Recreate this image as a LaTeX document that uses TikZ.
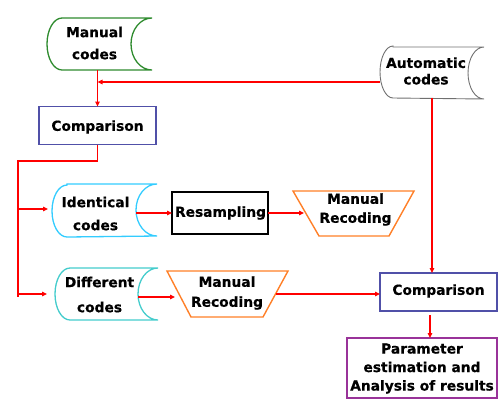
\documentclass[tikz,border=0pt]{standalone}
\usepackage{fontspec}
\setmainfont{DejaVu Sans}[BoldFeatures={FakeBold=0.6}]
\usetikzlibrary{arrows.meta,calc}
\definecolor{cgreen}{HTML}{2E8B2E}
\definecolor{ccyan}{HTML}{33CCFF}
\definecolor{cteal}{HTML}{44CCCC}
\definecolor{corange}{HTML}{FF7F27}
\definecolor{cblue}{HTML}{5050A8}
\definecolor{cpurple}{HTML}{993399}
\definecolor{cgray}{HTML}{707070}
\definecolor{cred}{HTML}{FF0000}
\newcommand\stdshape[5]{%
  \draw[#2, line width=#5] ([xshift=#3 pt]#1.north west) -- (#1.north east)
    arc[start angle=90,end angle=270,x radius=#4 pt,y radius=26pt]
    -- ([xshift=#3 pt]#1.south west)
    arc[start angle=270,end angle=90,x radius=#3 pt,y radius=26pt] -- cycle;}
\newcommand\trapshape[4]{%
  \draw[#2, line width=1.4pt] (#1.north west) -- (#1.north east)
    -- ([xshift=-#4 pt]#1.south east) -- ([xshift=#3 pt]#1.south west) -- cycle;}
\begin{document}
\begin{tikzpicture}[x=1pt,y=1pt,
  every node/.style={inner sep=0pt, outer sep=0pt},
  shapebox/.style 2 args={minimum width=#1, minimum height=#2},
  txt/.style={font=\fontsize{13.8}{#1}\selectfont\bfseries, align=center},
  txt/.default=17,
  boxed/.style={draw, line width=1.5pt},
  line/.style={cred, line width=1.2pt},
  conn/.style={line, -{Triangle[length=5pt,width=4.5pt]}},
]
\useasboundingbox (0,0) rectangle (502,-405);

% stored data shapes
\node[shapebox={105pt}{52pt}] (mc) at (99.5,-44) {};
\stdshape{mc}{cgreen}{15}{21}{1.3pt}
\node[txt=22] (mct) at (94.5,-43) {Manual\\codes};

\node[shapebox={104pt}{51pt}] (ac) at (432,-72.5) {};
\stdshape{ac}{cgray}{13}{16}{0.9pt}
\node[txt=16.5] (act) at (426,-71) {Automatic\\codes};

\node[shapebox={105pt}{53pt}] (ic) at (104.5,-210.5) {};
\stdshape{ic}{ccyan}{15}{21}{1.3pt}
\node[txt=23] (ict) at (95.5,-213.5) {Identical\\codes};

\node[shapebox={103pt}{52pt}] (dc) at (106.5,-294) {};
\stdshape{dc}{cteal}{15}{20}{1.3pt}
\node[txt=25] (dct) at (99.5,-294.5) {Different\\codes};

% rectangles
\node[boxed, draw=cblue, shapebox={117pt}{38pt}] (c1) at (97.5,-125.5) {};
\node[txt] (c1t) at (97.5,-127) {Comparison};

\node[boxed, draw=black, shapebox={96pt}{42pt}] (rs) at (220,-213) {};
\node[txt] (rst) at (220.5,-213) {Resampling};

\node[boxed, draw=cblue, shapebox={117pt}{38pt}] (c2) at (438.5,-292) {};
\node[txt] (c2t) at (438.5,-291) {Comparison};

\node[boxed, draw=cpurple, shapebox={150pt}{60pt}] (pm) at (422,-368) {};
\node[txt=18.5] (pmt) at (422,-368.5) {Parameter\\estimation and\\Analysis of results};

% trapezoids
\node[shapebox={121pt}{45pt}] (mr1) at (353.5,-213.5) {};
\trapshape{mr1}{corange}{26}{25}
\node[txt=19] (mr1t) at (355.5,-209.5) {Manual\\Recoding};

\node[shapebox={121pt}{46pt}] (mr2) at (227.5,-294) {};
\trapshape{mr2}{corange}{24}{25}
\node[txt=20] (mr2t) at (227,-293) {Manual\\Recoding};

% connectors
\draw[conn] (c1.north |- mc.south) -- (c1.north);
\coordinate (acout) at ([yshift=-9.5pt]ac.west);
\draw[conn] (acout) -- (acout -| c1.north);

\coordinate (bt) at (18,-161);
\coordinate (bb) at (18,-297);
\draw[line] (c1.south) |- (bt) -- (bb);
\coordinate (icin) at ([yshift=1.5pt]ic.west);
\draw[conn] (icin -| bt) -- ([xshift=-4pt]icin);
\draw[conn] (dc.west -| bt) -- ([xshift=-8pt]dc.west);

\coordinate (icout) at ([xshift=-21pt]ic.east);
\draw[conn] (icout |- rs.west) -- (rs.west);
\draw[conn] (rs.east) -- ([xshift=11pt]rs.east -| mr1.west);
\coordinate (dcout) at ([xshift=-20pt,yshift=-3pt]dc.east);
\draw[conn] (dcout) -- ([xshift=8pt]dcout -| mr2.west);
\coordinate (mr2out) at ([xshift=-12pt]mr2.east);
\draw[conn] (mr2out) -- (mr2out -| c2.west);
\draw[conn] (ac.south) -- (ac.south |- c2.north);
\coordinate (c2out) at ([xshift=-8.5pt,yshift=-4pt]c2.south);
\draw[conn] (c2out) -- (c2out |- pm.north);
\end{tikzpicture}
\end{document}
